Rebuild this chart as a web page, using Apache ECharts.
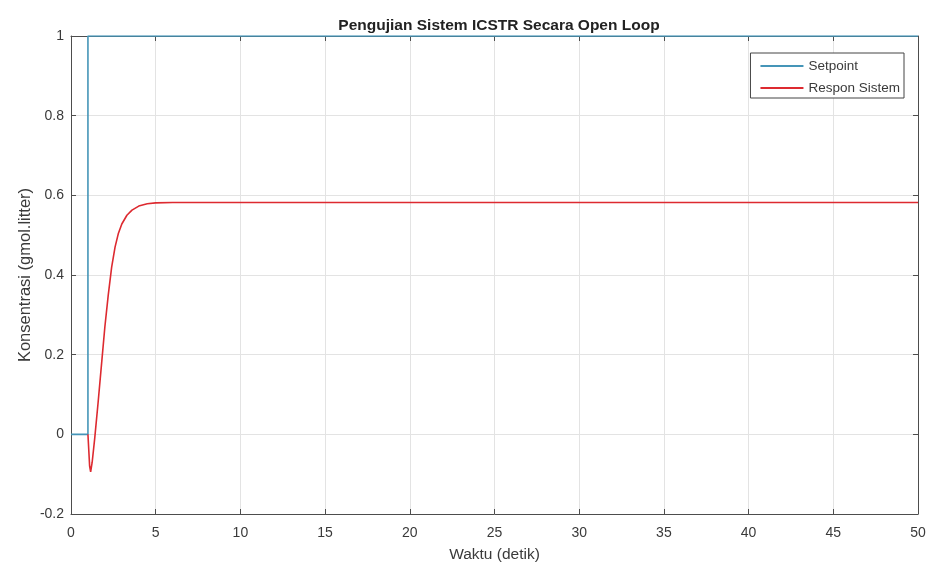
<!DOCTYPE html>
<html>
<head>
<meta charset="utf-8">
<script src="https://cdn.jsdelivr.net/npm/echarts@6/dist/echarts.min.js"></script>
<style>
html,body{margin:0;padding:0;background:#fff;}
#chart{width:937px;height:573px;}
</style>
</head>
<body>
<div id="chart"></div>
<script>
// Data
var setpointTime  = [0, 1, 1, 50];
var setpointValue = [0, 0, 1, 1];

var responseTime  = [1, 1.05, 1.1, 1.16, 1.25, 1.4, 1.6, 1.8, 2.0, 2.2, 2.4, 2.6, 2.8, 3.0, 3.3, 3.6, 4.0, 4.5, 5.0, 6.0, 50];
var responseValue = [0, -0.04, -0.08, -0.094, -0.07, -0.01, 0.08, 0.175, 0.27, 0.35, 0.42, 0.47, 0.505, 0.528, 0.55, 0.563, 0.573, 0.579, 0.581, 0.582, 0.582];

var titleText = 'Pengujian Sistem ICSTR Secara Open Loop';
var xLabel = 'Waktu (detik)';
var yLabel = 'Konsentrasi (gmol.litter)';
var seriesNames = ['Setpoint', 'Respon Sistem'];

function pairs(xs, ys){ return xs.map(function(x,i){ return [x, ys[i]]; }); }

var chart = echarts.init(document.getElementById('chart'), null, {renderer:'canvas'});
var font = "'Liberation Sans', Arial, Helvetica, sans-serif";
var axisColor = '#4d4d4d';
var gridColor = '#e3e3e3';
var textColor = '#3a3a3a';

function boxAxis(pos, isX){
  var a = {
    type: 'value', position: pos,
    axisLine: {show: true, onZero: false, lineStyle: {color: axisColor, width: 1}},
    axisTick: {show: true, inside: true, length: 5, lineStyle: {color: axisColor}},
    axisLabel: {show: false}, splitLine: {show: false}
  };
  if (isX) { a.min = 0; a.max = 50; a.interval = 5; }
  else { a.min = -0.2; a.max = 1; a.interval = 0.2; }
  return a;
}

var option = {
  animation: false,
  backgroundColor: '#fff',
  textStyle: {fontFamily: font},
  title: {
    text: titleText,
    left: 494, top: 13,
    textAlign: 'center',
    textStyle: {fontSize: 15.5, fontWeight: 'bold', color: '#222', fontFamily: font}
  },
  legend: {
    data: seriesNames,
    orient: 'vertical',
    right: 33, top: 53,
    icon: 'rect',
    itemWidth: 43, itemHeight: 2,
    itemGap: 8,
    borderColor: '#444', borderWidth: 1,
    padding: [6, 4, 3, 10],
    backgroundColor: '#fff',
    textStyle: {fontSize: 13.5, color: textColor, fontFamily: font}
  },
  grid: {left: 71, top: 36, right: 19, bottom: 59, containLabel: false},
  xAxis: [{
    type: 'value', min: 0, max: 50, interval: 5, position: 'bottom',
    name: xLabel, nameLocation: 'middle', nameGap: 33, nameMoveOverlap: false,
    nameTextStyle: {fontSize: 15.5, color: textColor, fontFamily: font},
    axisLine: {show: true, onZero: false, lineStyle: {color: axisColor, width: 1}},
    axisTick: {show: true, inside: true, length: 5, lineStyle: {color: axisColor}},
    axisLabel: {fontSize: 14, color: textColor, margin: 12, fontFamily: font},
    splitLine: {show: true, lineStyle: {color: gridColor, width: 1}}
  }, boxAxis('top', true)],
  yAxis: [{
    type: 'value', min: -0.2, max: 1, interval: 0.2, position: 'left',
    name: yLabel, nameLocation: 'middle', nameGap: 37, nameMoveOverlap: false,
    nameTextStyle: {fontSize: 16.5, color: textColor, fontFamily: font},
    axisLine: {show: true, onZero: false, lineStyle: {color: axisColor, width: 1}},
    axisTick: {show: true, inside: true, length: 5, lineStyle: {color: axisColor}},
    axisLabel: {fontSize: 14, color: textColor, margin: 7, fontFamily: font,
      formatter: function(v){ return String(parseFloat(v.toFixed(1))); }},
    splitLine: {show: true, lineStyle: {color: gridColor, width: 1}}
  }, boxAxis('right', false)],
  series: [{
    name: seriesNames[0], type: 'line',
    data: pairs(setpointTime, setpointValue),
    showSymbol: false, symbol: 'none',
    lineStyle: {color: '#4595b8', width: 1.6},
    itemStyle: {color: '#4595b8'},
    z: 3
  },{
    name: seriesNames[1], type: 'line',
    data: pairs(responseTime, responseValue),
    smooth: false,
    showSymbol: false, symbol: 'none',
    lineStyle: {color: '#dd2a30', width: 1.6},
    itemStyle: {color: '#dd2a30'},
    z: 4
  }]
};
chart.setOption(option);
</script>
</body>
</html>
